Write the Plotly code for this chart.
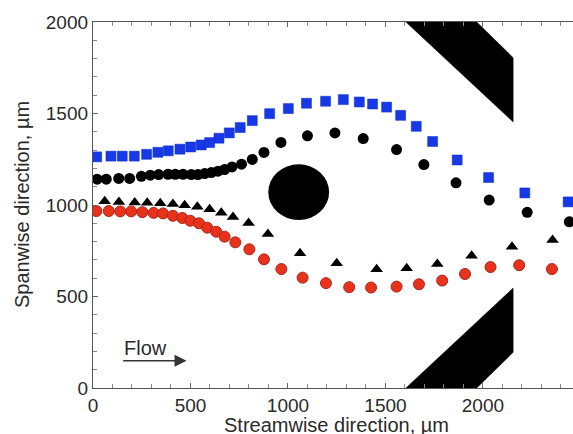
import plotly.graph_objects as go

# ---- data (µm) ----
blue_x = [19, 92, 150, 212, 275, 333, 386, 446, 501, 555, 598, 646, 699, 755, 817, 906,
          1002, 1095, 1193, 1284, 1366, 1434, 1506, 1578, 1658, 1742, 1868, 2029, 2215, 2437]
blue_y = [1263, 1267, 1267, 1267, 1277, 1288, 1296, 1305, 1317, 1328, 1341, 1365, 1394, 1423, 1461, 1499,
          1527, 1556, 1567, 1576, 1563, 1552, 1535, 1490, 1430, 1347, 1246, 1150, 1066, 1017]

black_x = [21, 68, 132, 188, 248, 294, 337, 385, 422, 462, 504, 538, 573, 607, 641, 675, 713, 762,
           817, 877, 964, 1100, 1241, 1386, 1557, 1697, 1862, 2032, 2227, 2443]
black_y = [1141, 1141, 1145, 1145, 1157, 1163, 1166, 1168, 1168, 1168, 1166, 1166, 1172, 1177, 1185,
           1194, 1208, 1223, 1249, 1287, 1342, 1378, 1394, 1363, 1303, 1221, 1121, 1027, 960, 908]

tri_x = [60, 133, 214, 278, 345, 410, 470, 535, 598, 658, 718, 798, 897,
         1062, 1250, 1455, 1609, 1766, 1942, 2149, 2357]
tri_y = [1021, 1017, 1014, 1012, 1009, 1005, 999, 990, 977, 958, 934, 901, 841,
         736, 682, 649, 654, 678, 723, 772, 809]

red_x = [17, 81, 140, 196, 253, 311, 359, 410, 458, 499, 544, 586, 632, 675, 730, 802, 877, 966,
         1075, 1195, 1314, 1426, 1557, 1672, 1791, 1908, 2039, 2186, 2354]
red_y = [967, 967, 965, 965, 961, 957, 954, 941, 929, 914, 900, 876, 854, 827, 796, 758, 703, 650,
         603, 573, 551, 549, 554, 567, 587, 623, 661, 671, 650]

# geometry of the channel features
top_obstacle_x = [1605, 1968, 2155, 2155, 1605]
top_obstacle_y = [2000, 2000, 1805, 1454, 2000]
bottom_obstacle_x = [1605, 1968, 2155, 2155, 1605]
bottom_obstacle_y = [0, 0, 195, 546, 0]
pillar_cx, pillar_cy, pillar_rx, pillar_ry = 1055, 1070, 156, 152

x_ticks = [0, 500, 1000, 1500, 2000]
y_ticks = [0, 500, 1000, 1500, 2000]
x_range = [0, 2462]
y_range = [0, 2000]

FONT = "Liberation Sans, Arial, sans-serif"
TXT = "#2a2a2a"

fig = go.Figure()

for ox, oy in [(top_obstacle_x, top_obstacle_y), (bottom_obstacle_x, bottom_obstacle_y)]:
    fig.add_trace(go.Scatter(x=ox, y=oy, mode="lines", fill="toself",
                             fillcolor="black", line=dict(color="black", width=0.5),
                             hoverinfo="skip"))

fig.add_shape(type="circle", xref="x", yref="y",
              x0=pillar_cx - pillar_rx, x1=pillar_cx + pillar_rx,
              y0=pillar_cy - pillar_ry, y1=pillar_cy + pillar_ry,
              fillcolor="black", line=dict(color="black", width=0))

fig.add_trace(go.Scatter(x=blue_x, y=blue_y, mode="markers",
                         marker=dict(symbol="square", size=10, color="#1638e6",
                                     line=dict(color="#1030c0", width=0.5))))
fig.add_trace(go.Scatter(x=black_x, y=black_y, mode="markers",
                         marker=dict(symbol="circle", size=11, color="black",
                                     line=dict(width=0))))
fig.add_trace(go.Scatter(x=tri_x, y=tri_y, mode="markers",
                         marker=dict(symbol="triangle-up", size=11, color="black",
                                     line=dict(width=0))))
fig.add_trace(go.Scatter(x=red_x, y=red_y, mode="markers",
                         marker=dict(symbol="circle", size=11, color="#e8321c",
                                     line=dict(color="#a8281a", width=1))))

# Flow label and arrow
fig.add_annotation(x=268, y=218, xref="x", yref="y", text="Flow", showarrow=False,
                   font=dict(family=FONT, size=20, color=TXT))
fig.add_annotation(x=480, y=149, ax=147, ay=149, xref="x", yref="y", axref="x", ayref="y",
                   text="", showarrow=True, arrowhead=2, arrowsize=1.6, arrowwidth=1.5,
                   arrowcolor="#333333")

# axis titles
fig.add_annotation(x=1250, y=0, xref="x", yref="paper", yanchor="top", yshift=-24,
                   text="Streamwise direction, µm", showarrow=False,
                   font=dict(family=FONT, size=20, color=TXT))
fig.add_annotation(x=0, y=0.5, xref="paper", yref="paper", xanchor="center", yanchor="middle",
                   xshift=-71, textangle=-90, text="Spanwise direction, µm", showarrow=False,
                   font=dict(family=FONT, size=20, color=TXT))

axis_common = dict(showgrid=False, zeroline=False, showline=True, linecolor="#555555",
                   linewidth=1.3, ticks="inside", ticklen=5, tickwidth=1, tickcolor="#666666",
                   tickfont=dict(family=FONT, size=19, color=TXT),
                   minor=dict(dtick=100, ticks="inside", ticklen=4, tickcolor="#888888", tickwidth=1))

fig.update_xaxes(range=x_range, tickvals=x_ticks, mirror="ticks", **axis_common)
fig.update_yaxes(range=y_range, tickvals=y_ticks, mirror=False, **axis_common)

fig.update_layout(width=573, height=434, showlegend=False,
                  margin=dict(l=93, r=0, t=22, b=46),
                  plot_bgcolor="white", paper_bgcolor="white",
                  font=dict(family=FONT, color=TXT))

fig.write_html("out.html", config={"displayModeBar": False},
               post_script="document.body.style.margin='0';document.body.style.overflow='hidden';")
